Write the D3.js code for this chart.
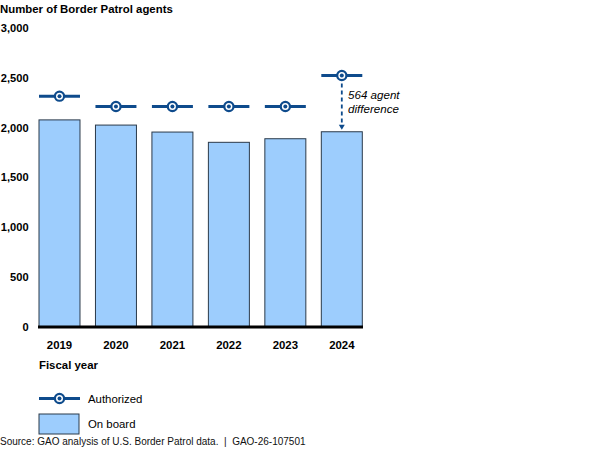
<!DOCTYPE html>
<html><head><meta charset="utf-8">
<script src="https://cdn.jsdelivr.net/npm/d3@7"></script>
<style>body{margin:0;background:#fff}svg{display:block;font-family:"Liberation Sans",Arial,sans-serif}</style>
</head><body>
<svg id="c" width="600" height="458"></svg>
<script>
const years = ["2019","2020","2021","2022","2023","2024"];
const onBoard = [2078, 2026, 1956, 1853, 1889, 1959];
const authorized = [2316, 2213, 2213, 2213, 2213, 2523];
const yTicks = [0, 500, 1000, 1500, 2000, 2500, 3000];
const diffLabel = ["564 agent", "difference"];

const svg = d3.select("#c");
const navy = "#0E4B8C";
const fs = 11.4;
const x = d3.scaleBand().domain(years).range([39, 362.3]).paddingInner(0.274).paddingOuter(0);
const y = d3.scaleLinear().domain([0, 3000]).range([327, 28]);

// title
svg.append("text").attr("x", 0).attr("y", 13).attr("font-size", fs).attr("font-weight", "bold").text("Number of Border Patrol agents");

// y tick labels
svg.append("g").selectAll("text").data(yTicks).join("text")
  .attr("x", 28.6).attr("y", d => y(d)).attr("dy", "0.35em").attr("text-anchor", "end")
  .attr("font-size", 11.1).attr("font-weight", "bold").text(d => d3.format(",")(d));

// bars
svg.append("g").selectAll("rect").data(years).join("rect")
  .attr("x", d => x(d)).attr("width", x.bandwidth())
  .attr("y", (d, i) => y(onBoard[i])).attr("height", (d, i) => y(0) - y(onBoard[i]))
  .attr("fill", "#9DCDFD").attr("stroke", "#2B3A4A").attr("stroke-width", 1);

// baseline
svg.append("line").attr("x1", 38).attr("x2", 363).attr("y1", y(0)).attr("y2", y(0)).attr("stroke", "#000").attr("stroke-width", 3);

// x labels
svg.append("g").selectAll("text").data(years).join("text")
  .attr("x", d => x(d) + x.bandwidth() / 2).attr("y", 349).attr("text-anchor", "middle")
  .attr("font-size", fs).attr("font-weight", "bold").text(d => d);
svg.append("text").attr("x", 39).attr("y", 369).attr("font-size", fs).attr("font-weight", "bold").text("Fiscal year");

// authorized markers
function marker(g, x0, x1, cy) {
  g.append("line").attr("x1", x0).attr("x2", x1).attr("y1", cy).attr("y2", cy).attr("stroke", navy).attr("stroke-width", 3);
  g.append("circle").attr("cx", (x0 + x1) / 2).attr("cy", cy).attr("r", 4.6).attr("fill", "#fff").attr("stroke", navy).attr("stroke-width", 2.2);
  g.append("circle").attr("cx", (x0 + x1) / 2).attr("cy", cy).attr("r", 2).attr("fill", navy);
}
const mg = svg.append("g");
years.forEach((d, i) => marker(mg, x(d), x(d) + x.bandwidth(), y(authorized[i])));

// difference annotation
const last = years.length - 1;
const cx = x(years[last]) + x.bandwidth() / 2;
svg.append("line").attr("x1", cx).attr("x2", cx).attr("y1", y(authorized[last]) + 8).attr("y2", y(onBoard[last]) - 4)
  .attr("stroke", navy).attr("stroke-width", 1.8).attr("stroke-dasharray", "4,3");
svg.append("path").attr("d", `M${cx - 3},${y(onBoard[last]) - 7} L${cx + 3},${y(onBoard[last]) - 7} L${cx},${y(onBoard[last]) - 2} Z`).attr("fill", navy);
svg.append("g").selectAll("text").data(diffLabel).join("text")
  .attr("x", 348).attr("y", (d, i) => 99 + i * 14).attr("font-size", 11.6).attr("font-style", "italic").text(d => d);

// legend
const lg = svg.append("g");
marker(lg, 39, 80, 398.5);
lg.append("text").attr("x", 88).attr("y", 402.5).attr("font-size", fs).text("Authorized");
lg.append("rect").attr("x", 39).attr("y", 414).attr("width", 40).attr("height", 20).attr("fill", "#9DCDFD").attr("stroke", "#2B3A4A").attr("stroke-width", 1);
lg.append("text").attr("x", 88).attr("y", 428).attr("font-size", fs).text("On board");

// source
svg.append("text").attr("x", 0).attr("y", 445).attr("font-size", 10).attr("fill", "#111").style("white-space", "pre")
  .text("Source: GAO analysis of U.S. Border Patrol data.  |  GAO-26-107501");
</script>
</body></html>
